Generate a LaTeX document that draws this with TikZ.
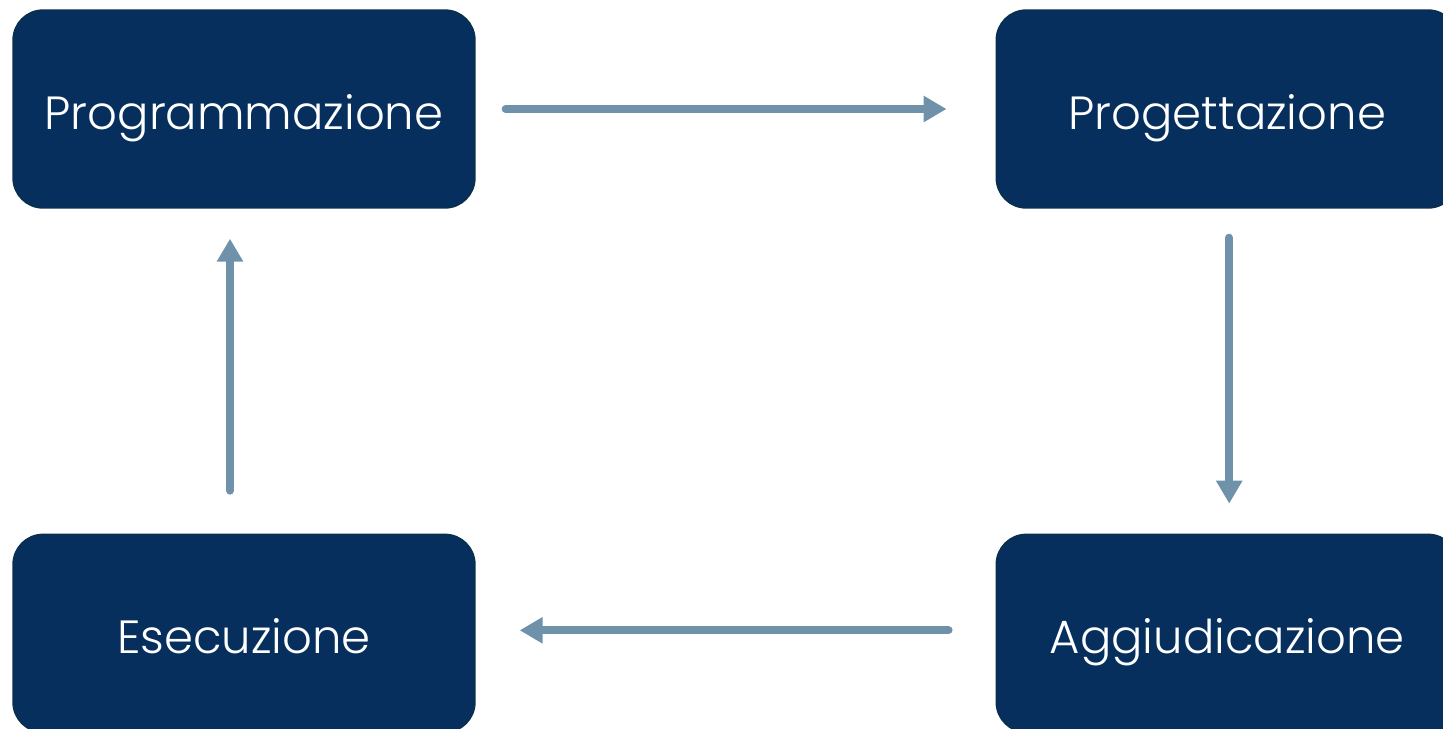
\documentclass[tikz,border=0pt]{standalone}
\usepackage{fontspec}
\setmainfont{Poppins}[UprightFont=* Light]
\usepackage{tikz}
\usetikzlibrary{positioning,arrows.meta}

\definecolor{phasefill}{HTML}{062F5E}
\definecolor{phaseline}{HTML}{0A2F4A}
\definecolor{flowcol}{HTML}{6F92AA}

\begin{document}
\begin{tikzpicture}[
	x=0.02cm, y=-0.02cm,
	phase/.style={rectangle, draw=phaseline, line width=0.8pt, fill=phasefill,
		rounded corners=0.6cm, minimum width=9.24cm, minimum height=3.96cm,
		text height=0.82cm, text depth=0pt,
		text centered, text=white, font=\fontsize{26.5}{32}\selectfont},
	flow/.style={draw=flowcol, line width=0.16cm, line cap=round,
		-{Triangle[width=0.5cm,length=0.46cm]}}
	]
	\useasboundingbox (0,0) rectangle (1443,728);
	\clip (0,0) rectangle (1443,728);
	\node (prog) [phase] at (244,109) {Programmazione};
	\node (proj) [phase, right=10.4cm of prog] {Progettazione};
	\node (ese) [phase, below=6.5cm of prog] {Esecuzione};
	\node (agg) [phase, right=10.4cm of ese] {Aggiudicazione};
	% ciclo delle fasi
	\draw[flow, shorten <=0.6cm, shorten >=0.98cm] (prog.east) -- (proj.west);
	\draw[flow, shorten <=0.58cm, shorten >=0.6cm] ([xshift=0.04cm]proj.south) -- ([xshift=0.04cm]agg.north);
	\draw[flow, shorten <=0.94cm, shorten >=0.88cm] ([yshift=0.06cm]agg.west) -- ([yshift=0.06cm]ese.east);
	\draw[flow, shorten <=0.86cm, shorten >=0.6cm] ([xshift=-0.28cm]ese.north) -- ([xshift=-0.28cm]prog.south);
\end{tikzpicture}
\end{document}
